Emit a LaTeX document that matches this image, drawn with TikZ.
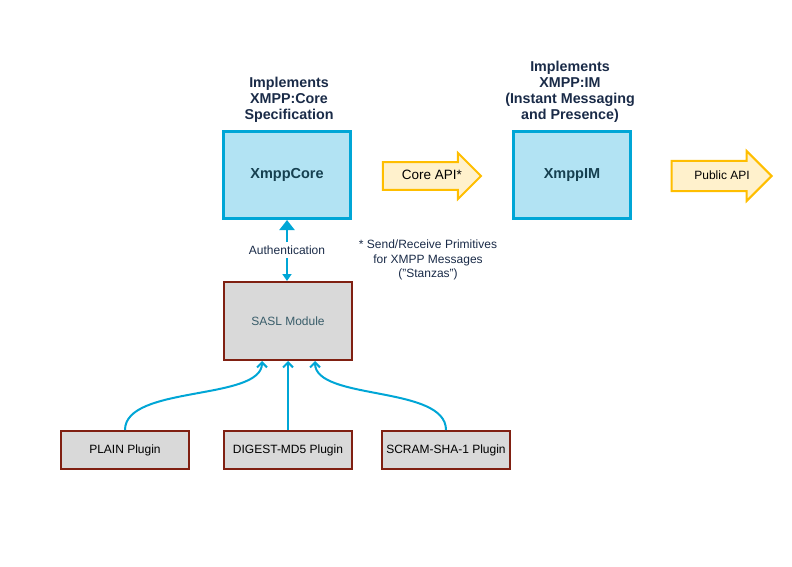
\documentclass[tikz,border=0pt]{standalone}
\usepackage{fontspec}
\setmainfont{Liberation Sans}
\usetikzlibrary{arrows.meta,shapes.arrows}
\definecolor{corefill}{RGB}{178,227,243}
\definecolor{coreline}{RGB}{0,166,214}
\definecolor{apifill}{RGB}{255,241,204}
\definecolor{apiline}{RGB}{255,190,0}
\definecolor{saslfill}{RGB}{217,217,217}
\definecolor{saslline}{RGB}{128,32,18}
\definecolor{headtext}{RGB}{26,43,72}
\definecolor{boxtext}{RGB}{22,64,80}
\tikzset{
  box-blue/.style={
    draw=coreline,
    fill=corefill,
    line width=3pt,
    minimum height=87pt,
    text=boxtext,
    font=\bfseries\fontsize{14.5}{16}\selectfont
  },
  box-grey/.style={
    draw=saslline,
    fill=saslfill,
    line width=2pt,
    minimum width=128pt,
    font=\fontsize{12}{14}\selectfont
  },
  api-arrow/.style={
    single arrow,
    draw=apiline,
    fill=apifill,
    line width=2pt,
    single arrow head indent=0pt,
    text height=9pt,
    text depth=2pt,
    inner ysep=4.5pt
  },
  head-text/.style={align=center, text=headtext, font=\bfseries\fontsize{14.3}{16}\selectfont},
  note-text/.style={align=center, text=headtext, font=\fontsize{12}{14.5}\selectfont},
  link/.style={draw=coreline, line width=2pt},
  tip-barb/.style={-{Straight Barb[length=5pt,width=10pt]}}
}

\begin{document}
\begin{tikzpicture}[x=1pt,y=-1pt]
  \useasboundingbox (0,0) rectangle (792,567);

  % top row
  \node[box-blue, minimum width=127pt] (core) at (287,175) {XmppCore};
  \node[box-blue, minimum width=117pt] (im) at (572,175) {XmppIM};
  \node[head-text] (core-head) at (289,100) {Implements\\XMPP:Core\\Specification};
  \node[head-text] (im-head) at (570,92) {Implements\\XMPP:IM\\(Instant Messaging\\and Presence)};

  \node[api-arrow, minimum height=98pt, minimum width=46pt,
        font=\fontsize{13.5}{15}\selectfont] (core-api) at (425,176) {\hspace*{14pt}Core API*};
  \node[api-arrow, minimum height=100pt, minimum width=50pt,
        font=\fontsize{12}{14}\selectfont] (public-api) at (714,176) {\hspace*{16pt}Public API};

  \node[note-text] (note) at (428,260) {* Send/Receive Primitives\\for XMPP Messages\\("Stanzas")};

  % sasl and plugins
  \node[box-grey, minimum height=78pt, text=boxtext!85] (sasl) at (288,321) {SASL Module};
  \node[box-grey, minimum height=38pt] (plain) at (125,450) {PLAIN Plugin};
  \node[box-grey, minimum height=38pt] (digest) at (288,450) {DIGEST-MD5 Plugin};
  \node[box-grey, minimum height=38pt] (scram) at (446,450) {SCRAM-SHA-1 Plugin};

  \node[note-text] (auth) at (287,250) {Authentication};
  \draw[link, -{Triangle[length=10pt,width=15pt]}] (auth) -- (auth |- core.south);
  \draw[link, -{Triangle[length=7pt,width=9pt]}] (auth) -- (auth |- sasl.north);

  \draw[link, tip-barb] (plain.north) .. controls +(0,-45) and +(0,40) .. ([xshift=-26pt]sasl.south);
  \draw[link, tip-barb] (digest.north) -- (sasl.south);
  \draw[link, tip-barb] (scram.north) .. controls +(0,-45) and +(0,40) .. ([xshift=27pt]sasl.south);

\end{tikzpicture}
\end{document}
